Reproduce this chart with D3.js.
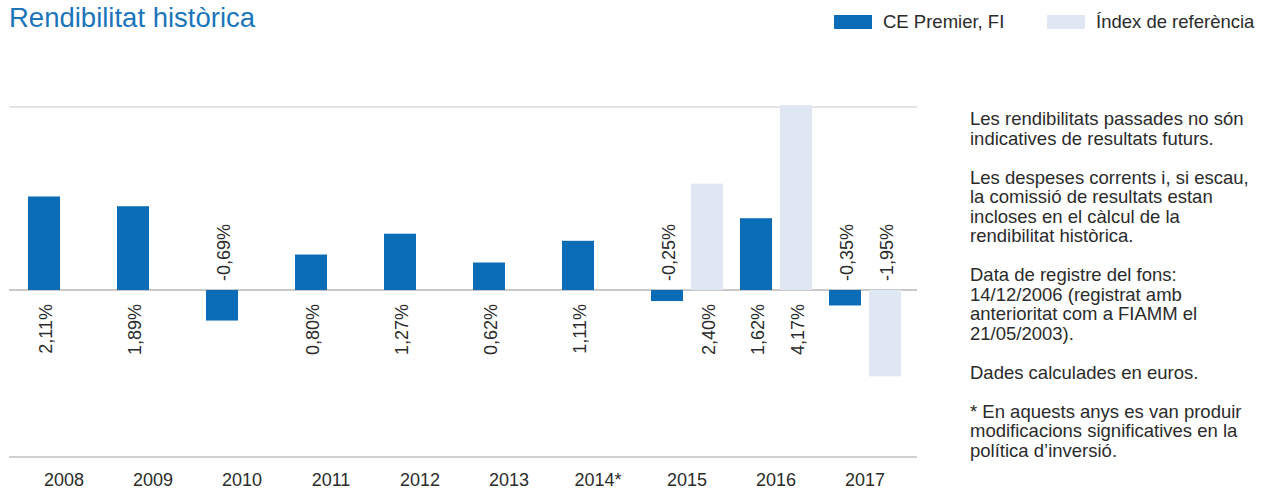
<!DOCTYPE html>
<html>
<head>
<meta charset="utf-8">
<script src="https://cdn.jsdelivr.net/npm/d3@7"></script>
<style>
  body { margin: 0; background: #fff; }
  text { font-family: "Liberation Sans", Arial, sans-serif; }
</style>
</head>
<body>
<div id="chart"></div>
<script>
// data
const years = ["2008", "2009", "2010", "2011", "2012", "2013", "2014*", "2015", "2016", "2017"];
const fundValues = [2.11, 1.89, -0.69, 0.80, 1.27, 0.62, 1.11, -0.25, 1.62, -0.35];
const indexValues = [null, null, null, null, null, null, null, 2.40, 4.17, -1.95];
const seriesNames = ["CE Premier, FI", "Índex de referència"];
const notes = [
  ["Les rendibilitats passades no són", "indicatives de resultats futurs."],
  ["Les despeses corrents i, si escau,", "la comissió de resultats estan", "incloses en el càlcul de la", "rendibilitat històrica."],
  ["Data de registre del fons:", "14/12/2006 (registrat amb", "anterioritat com a FIAMM el", "21/05/2003)."],
  ["Dades calculades en euros."],
  ["* En aquests anys es van produir", "modificacions significatives en la", "política d’inversió."]
];

const width = 1268;
const height = 491;
const fundColor = "#0a6cb7";
const indexColor = "#dfe7f2";
const textColor = "#2b2b2b";

const svg = d3.select("#chart")
  .append("svg")
  .attr("width", width)
  .attr("height", height);

// scales
const x = d3.scaleBand()
  .domain(years)
  .range([19.5, 909.5]);

const xSub = d3.scaleBand()
  .domain(["fund", "index"])
  .range([x.bandwidth() / 2 - 36, x.bandwidth() / 2 + 36])
  .paddingInner(0.2);

const y = d3.scaleLinear()
  .domain([-3.77, 4.13])
  .range([457, 107]);

// comma decimals, plain hyphen for the minus sign
const fmt = v => (v < 0 ? "-" : "") + Math.abs(v).toFixed(2).replace(".", ",") + "%";

// title
svg.append("text")
  .attr("x", 9)
  .attr("y", 27)
  .style("font-size", "27.5px")
  .style("fill", "#1b75bb")
  .text("Rendibilitat històrica");

// legend
const legend = svg.append("g");
const legendItems = [
  { name: seriesNames[0], color: fundColor, x: 834 },
  { name: seriesNames[1], color: indexColor, x: 1047 }
];
legend.selectAll("rect")
  .data(legendItems)
  .join("rect")
  .attr("x", d => d.x)
  .attr("y", 15)
  .attr("width", 38)
  .attr("height", 14)
  .attr("fill", d => d.color);
legend.selectAll("text")
  .data(legendItems)
  .join("text")
  .attr("x", d => d.x + 49)
  .attr("y", 28)
  .style("font-size", "18.5px")
  .style("fill", textColor)
  .text(d => d.name);

// grid lines
svg.append("line")
  .attr("x1", 9).attr("x2", 917)
  .attr("y1", y.range()[1]).attr("y2", y.range()[1])
  .attr("stroke", "#e4e4e4").attr("stroke-width", 2);
svg.append("line")
  .attr("x1", 9).attr("x2", 917)
  .attr("y1", y(0)).attr("y2", y(0))
  .attr("stroke", "#c8c8c8").attr("stroke-width", 2);
svg.append("line")
  .attr("x1", 9).attr("x2", 917)
  .attr("y1", y.range()[0]).attr("y2", y.range()[0])
  .attr("stroke", "#d0d0d0").attr("stroke-width", 2);

// bars
const rows = [];
years.forEach((yr, i) => {
  rows.push({ year: yr, key: "fund", value: fundValues[i] });
  if (indexValues[i] !== null) rows.push({ year: yr, key: "index", value: indexValues[i] });
});

svg.append("g")
  .selectAll("rect")
  .data(rows)
  .join("rect")
  .attr("x", d => x(d.year) + xSub(d.key))
  .attr("width", xSub.bandwidth())
  .attr("y", d => y(Math.max(0, d.value)))
  .attr("height", d => Math.abs(y(d.value) - y(0)))
  .attr("fill", d => d.key === "fund" ? fundColor : indexColor);

// value labels (rotated, on the opposite side of the zero line)
svg.append("g")
  .selectAll("text")
  .data(rows)
  .join("text")
  .attr("transform", d => {
    const cx = x(d.year) + xSub(d.key) + xSub.bandwidth() / 2 + 2;
    const cy = d.value < 0 ? y(0) - 9 : y(0) + 14;
    return `translate(${cx},${cy}) rotate(-90)`;
  })
  .attr("dy", "0.35em")
  .attr("text-anchor", d => d.value < 0 ? "start" : "end")
  .style("font-size", "18px")
  .style("fill", textColor)
  .text(d => fmt(d.value));

// x axis labels
const xAxis = svg.append("g")
  .attr("transform", `translate(0,${y.range()[0]})`)
  .call(d3.axisBottom(x).tickSize(0).tickPadding(16));
xAxis.select(".domain").remove();
xAxis.selectAll("text")
  .style("font-size", "18px")
  .style("font-family", "'Liberation Sans', Arial, sans-serif")
  .style("fill", textColor);

// notes on the right
const noteG = svg.append("g");
let lineY = 125;
notes.forEach(par => {
  par.forEach(line => {
    noteG.append("text")
      .attr("x", 970)
      .attr("y", lineY)
      .style("font-size", "18.5px")
      .style("fill", textColor)
      .text(line);
    lineY += 19.5;
  });
  lineY += 19.5;
});
</script>
</body>
</html>
